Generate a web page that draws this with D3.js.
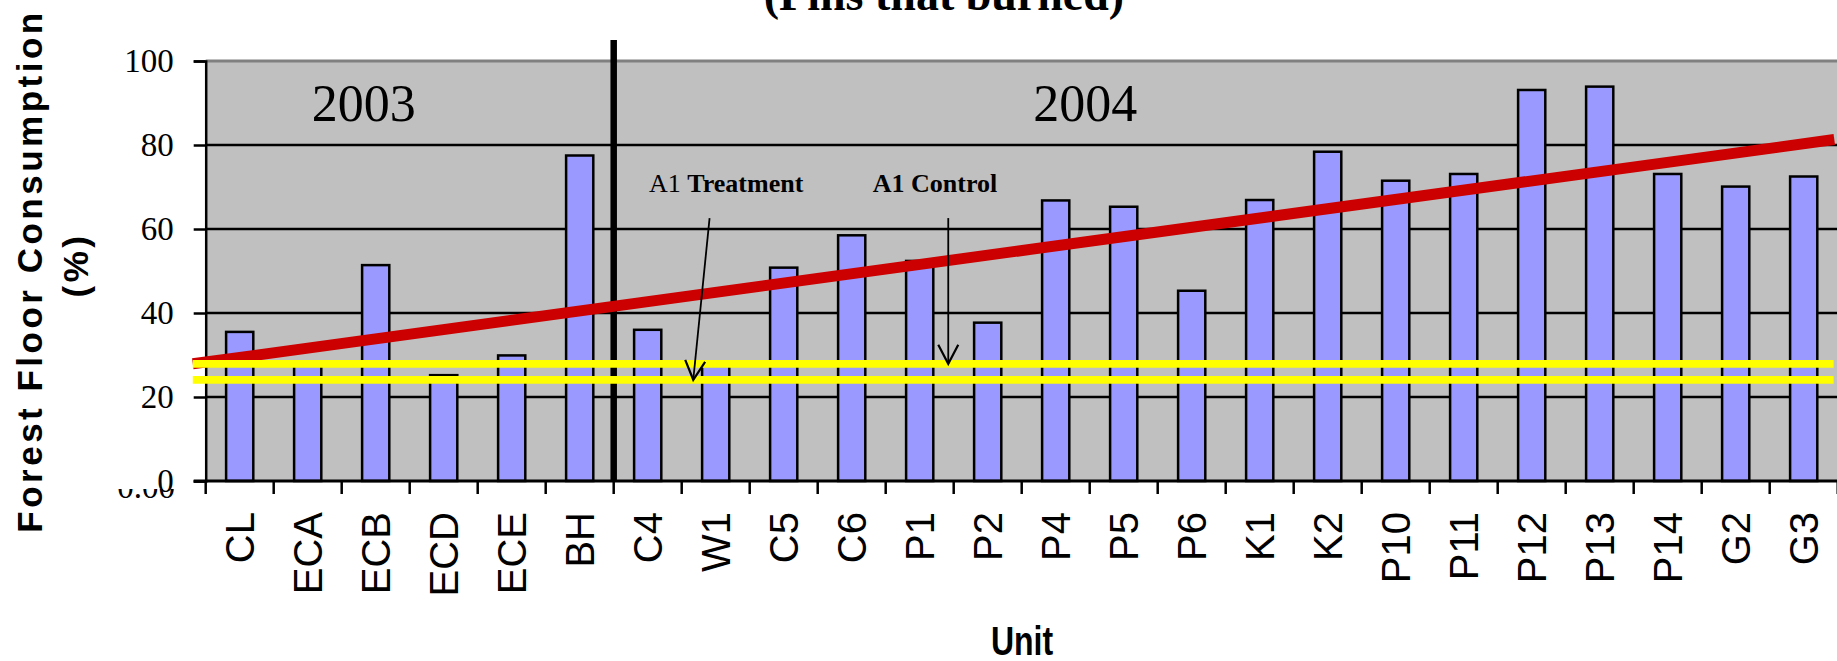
<!DOCTYPE html>
<html>
<head>
<meta charset="utf-8">
<script src="https://cdn.jsdelivr.net/npm/d3@7"></script>
<style>
  html, body { margin: 0; padding: 0; background: #fff; }
  svg { display: block; }
</style>
</head>
<body>
<svg id="chart" width="1837" height="661"></svg>
<script>
// Units sampled, in plotting order
const categories = ["CL","ECA","ECB","ECD","ECE","BH","C4","W1","C5","C6","P1","P2",
                    "P4","P5","P6","K1","K2","P10","P11","P12","P13","P14","G2","G3"];
// Forest floor consumption (%) per unit
const consumption = [35.5, 27.5, 51.4, 25.2, 29.9, 77.5, 36.0, 27.6, 50.8, 58.5, 52.4, 37.7,
                     66.8, 65.3, 45.3, 66.9, 78.4, 71.5, 73.1, 93.1, 93.9, 73.1, 70.1, 72.5];
const yTicks = [0, 20, 40, 60, 80, 100];

// Season split: first 6 units burned in 2003, the rest in 2004
const seasonBreak = 6;
const seasonNames = ["2003", "2004"];
const seasonLabelPos = [1.56, 12.17];
const seasonLabelVal = 85.7;

// Reference levels for A1 control / A1 treatment
const refNames = ["A1 Control", "A1 Treatment"];
const refLevels = [27.9, 24.1];
const refSpan = [-0.19, 23.94];

// Trend line endpoints (position in unit slots, consumption %)
const trendPos = [-0.19, 23.95];
const trendVal = [27.9, 81.3];

// Callouts: label anchor and arrow from/to (slot position, %)
const calloutLabelPos = [6.52, 9.81];
const calloutLabelVal = 68.8;
const calloutArrowFrom = [[7.41, 62.6], [10.92, 62.6]];
const calloutArrowTo = [[7.17, 24.1], [10.92, 27.9]];

const svg = d3.select("#chart");
const plotLeft = 205.7, plotRight = 1837.7, plotTop = 61, plotBottom = 481;

const x = d3.scaleBand().domain(categories).range([plotLeft, plotRight])
  .paddingInner(0.6).paddingOuter(0.3);
const slot = d3.scaleLinear().domain([0, categories.length]).range([plotLeft, plotRight]);
const y = d3.scaleLinear().domain([0, 100]).range([plotBottom, plotTop]);

const serif = "'Liberation Serif', 'Times New Roman', serif";
const sans = "'Liberation Sans', Arial, sans-serif";

// Title (mostly above the visible area)
svg.append("text")
  .attr("x", 944).attr("y", 10)
  .attr("text-anchor", "middle")
  .attr("font-family", serif).attr("font-weight", "bold").attr("font-size", 46)
  .text("(Pins that burned)");

// Plot background
svg.append("rect")
  .attr("x", plotLeft).attr("y", plotTop)
  .attr("width", plotRight - plotLeft).attr("height", plotBottom - plotTop)
  .attr("fill", "#C0C0C0");

// Horizontal gridlines
svg.append("g").selectAll("line")
  .data(yTicks.filter(v => v > 0 && v < 100))
  .join("line")
  .attr("x1", plotLeft).attr("x2", plotRight)
  .attr("y1", d => y(d)).attr("y2", d => y(d))
  .attr("stroke", "#000").attr("stroke-width", 2.5);

// Top border of plot area
svg.append("line")
  .attr("x1", plotLeft).attr("x2", plotRight)
  .attr("y1", y(100)).attr("y2", y(100))
  .attr("stroke", "#808080").attr("stroke-width", 3);

// Bars
svg.append("g").selectAll("rect")
  .data(categories)
  .join("rect")
  .attr("x", d => x(d))
  .attr("y", (d, i) => y(consumption[i]))
  .attr("width", x.bandwidth())
  .attr("height", (d, i) => y(0) - y(consumption[i]))
  .attr("fill", "#9999FF")
  .attr("stroke", "#000").attr("stroke-width", 2.5);

// Y axis
const yAxis = svg.append("g")
  .attr("transform", `translate(${plotLeft},0)`)
  .call(d3.axisLeft(y).tickValues(yTicks).tickSize(12).tickPadding(20).tickFormat(d3.format("d")));
yAxis.select(".domain").attr("stroke", "#000").attr("stroke-width", 2.5);
yAxis.selectAll(".tick line").attr("stroke", "#000").attr("stroke-width", 2.5);
yAxis.selectAll(".tick text")
  .attr("font-family", serif).attr("font-size", 33).attr("fill", "#000");

// Partially hidden "0.00" label beneath the zero tick
const clip = svg.append("clipPath").attr("id", "zeroClip");
clip.append("rect").attr("x", 100).attr("y", 489).attr("width", 90).attr("height", 12);
svg.append("text")
  .attr("x", 175).attr("y", 498)
  .attr("text-anchor", "end")
  .attr("font-family", serif).attr("font-size", 33)
  .attr("clip-path", "url(#zeroClip)")
  .text("0.00");

// X axis baseline and ticks at slot boundaries
svg.append("line")
  .attr("x1", plotLeft - 12).attr("x2", plotRight)
  .attr("y1", y(0)).attr("y2", y(0))
  .attr("stroke", "#000").attr("stroke-width", 3);
svg.append("g").selectAll("line")
  .data(d3.range(0, categories.length + 1))
  .join("line")
  .attr("x1", d => slot(d)).attr("x2", d => slot(d))
  .attr("y1", y(0)).attr("y2", y(0) + 13)
  .attr("stroke", "#000").attr("stroke-width", 2.5);

// Unit labels
svg.append("g").selectAll("text")
  .data(categories)
  .join("text")
  .attr("transform", d => `translate(${x(d) + x.bandwidth() / 2 + 14},512) rotate(-90)`)
  .attr("text-anchor", "end")
  .attr("font-family", sans).attr("font-size", 40)
  .text(d => d);

// Season divider
svg.append("line")
  .attr("x1", slot(seasonBreak)).attr("x2", slot(seasonBreak))
  .attr("y1", 40).attr("y2", y(0))
  .attr("stroke", "#000").attr("stroke-width", 6.5);

// Season labels
svg.append("g").selectAll("text")
  .data(seasonNames)
  .join("text")
  .attr("x", (d, i) => slot(seasonLabelPos[i]))
  .attr("y", y(seasonLabelVal))
  .attr("font-family", serif).attr("font-size", 52)
  .text(d => d);

// Trend line
svg.append("line")
  .attr("x1", slot(trendPos[0])).attr("y1", y(trendVal[0]))
  .attr("x2", slot(trendPos[1])).attr("y2", y(trendVal[1]))
  .attr("stroke", "#CC0000").attr("stroke-width", 11);

// Reference levels
svg.append("g").selectAll("line")
  .data(refLevels)
  .join("line")
  .attr("x1", slot(refSpan[0])).attr("x2", slot(refSpan[1]))
  .attr("y1", d => y(d)).attr("y2", d => y(d))
  .attr("stroke", "#FFFF00").attr("stroke-width", 7.7);

// Callout labels
const labels = svg.append("g")
  .attr("font-family", serif).attr("font-size", 26).attr("fill", "#000");
const tLabel = labels.append("text")
  .attr("x", slot(calloutLabelPos[0])).attr("y", y(calloutLabelVal));
tLabel.append("tspan").text("A1 ");
tLabel.append("tspan").attr("font-weight", "bold").text("Treatment");
labels.append("text")
  .attr("x", slot(calloutLabelPos[1])).attr("y", y(calloutLabelVal))
  .attr("font-weight", "bold")
  .text("A1 Control");

// Callout arrows with open heads
calloutArrowFrom.forEach((from, i) => {
  const to = calloutArrowTo[i];
  const x1 = slot(from[0]), y1 = y(from[1]);
  const x2 = slot(to[0]), y2 = y(to[1]);
  svg.append("line")
    .attr("x1", x1).attr("y1", y1).attr("x2", x2).attr("y2", y2)
    .attr("stroke", "#000").attr("stroke-width", 1.8);
  const ang = Math.atan2(y2 - y1, x2 - x1);
  const len = 19, half = 10;
  const bx = x2 - len * Math.cos(ang), by = y2 - len * Math.sin(ang);
  const px = -Math.sin(ang) * half, py = Math.cos(ang) * half;
  svg.append("polyline")
    .attr("points", `${bx + px},${by + py} ${x2},${y2} ${bx - px},${by - py}`)
    .attr("fill", "none").attr("stroke", "#000").attr("stroke-width", 2.2);
});

// Axis titles
const yTitle = svg.append("g")
  .attr("font-family", sans).attr("font-weight", "bold").attr("font-size", 35)
  .attr("letter-spacing", 3.5).attr("text-anchor", "middle");
yTitle.append("text")
  .attr("transform", `translate(42,${(plotTop + plotBottom) / 2}) rotate(-90)`)
  .text("Forest Floor Consumption");
yTitle.append("text")
  .attr("transform", `translate(88,265) rotate(-90)`)
  .text("(%)");

svg.append("text")
  .attr("transform", "translate(1022,655) scale(0.8,1)")
  .attr("text-anchor", "middle")
  .attr("font-family", sans).attr("font-weight", "bold").attr("font-size", 40)
  .text("Unit");
</script>
</body>
</html>
